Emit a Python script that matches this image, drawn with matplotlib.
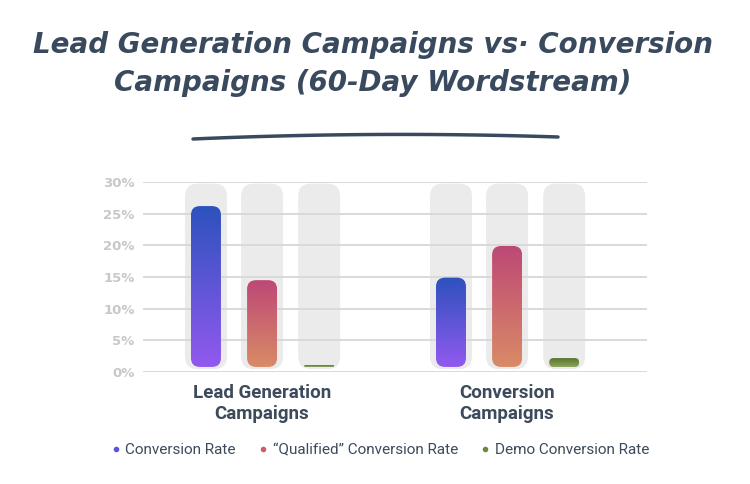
import numpy as np
import matplotlib
matplotlib.use("Agg")
import matplotlib.pyplot as plt
from matplotlib.patches import FancyBboxPatch
from matplotlib.lines import Line2D
from matplotlib.colors import LinearSegmentedColormap

# ---- data ----
categories = ["Lead Generation\nCampaigns", "Conversion\nCampaigns"]
series_names = ["Conversion Rate", "\u201cQualified\u201d Conversion Rate", "Demo Conversion Rate"]
conversion_rate = [26.2, 14.9]
qualified_rate = [14.5, 19.9]
demo_rate = [1.1, 2.2]
yticks = [0, 5, 10, 15, 20, 25, 30]
ytick_labels = ["0%", "5%", "10%", "15%", "20%", "25%", "30%"]

series_values = [conversion_rate, qualified_rate, demo_rate]
grad_top = ["#2c52bd", "#bd4876", "#5a7430"]
grad_bot = ["#9259ef", "#d98b66", "#8aa45a"]
dot_colors = ["#5b55d9", "#d0596f", "#6a8b3b"]

W, H = 750, 484
fig = plt.figure(figsize=(7.5, 4.84), dpi=100)
ax_l, ax_r, ax_top, ax_bot = 143, 647, 182, 372
ax = fig.add_axes([ax_l / W, 1 - ax_bot / H, (ax_r - ax_l) / W, (ax_bot - ax_top) / H])

xmin, xmax = -0.486, 1.571
ymin, ymax = 0, 30
ax.set_xlim(xmin, xmax)
ax.set_ylim(ymin, ymax)

xu_per_px = (xmax - xmin) / (ax_r - ax_l)
yu_per_px = (ymax - ymin) / (ax_bot - ax_top)
m_aspect = yu_per_px / xu_per_px

offsets = [-0.229, 0.0, 0.233]
bg_w = 42 * xu_per_px
bar_w = 30 * xu_per_px
bg_r = 13 * xu_per_px
bar_r = 9 * xu_per_px
base = 0.8

# gridlines (drawn over the grey tracks, under the coloured bars)
for t in yticks:
    ax.axhline(t, color="#d9d9d9", lw=1.4, zorder=1.5)

def rounded(x0, y0, w, h, r, **kw):
    hs = h / m_aspect
    r = min(r, w / 2, hs / 2)
    p = FancyBboxPatch((x0, y0), w, h,
                       boxstyle=f"round,pad=0,rounding_size={r}",
                       mutation_aspect=m_aspect, **kw)
    ax.add_patch(p)
    return p

grad = np.linspace(1, 0, 256).reshape(-1, 1)
for ci in range(len(categories)):
    for si in range(3):
        xc = ci + offsets[si]
        rounded(xc - bg_w / 2, 0.45, bg_w, 29.3, bg_r, fc="#ebebeb", ec="none", zorder=1)
        v = series_values[si][ci]
        p = rounded(xc - bar_w / 2, base, bar_w, v - base, bar_r, fc="none", ec="none", zorder=2)
        cmap = LinearSegmentedColormap.from_list("g", [grad_bot[si], grad_top[si]])
        im = ax.imshow(grad, cmap=cmap, extent=[xc - bar_w / 2, xc + bar_w / 2, base, v],
                       aspect="auto", zorder=3, interpolation="bilinear", vmin=0, vmax=1)
        im.set_clip_path(p)

ax.set_xlim(xmin, xmax)
ax.set_ylim(ymin, ymax)
for s in ax.spines.values():
    s.set_visible(False)
ax.set_yticks(yticks)
ax.set_yticklabels(ytick_labels, fontsize=9.5, fontweight="bold", color="#c8c8c8", family="DejaVu Sans")
ax.tick_params(axis="y", length=0, pad=6)
ax.set_xticks([0, 1])
ax.set_xticklabels(categories, fontsize=13.5, fontweight="bold", color="#3c4a5c",
                   family="Roboto", linespacing=1.2)
ax.tick_params(axis="x", length=0, pad=9)

# title
fig.text(0.497, 1 - 64 / H, "Lead Generation Campaigns vs\u00b7 Conversion\nCampaigns (60-Day Wordstream)",
         ha="center", va="center", fontsize=20, color="#3a4a5e", style="italic", fontweight="bold",
         family="DejaVu Sans", linespacing=1.45)

# decorative underline
t = np.linspace(0, 1, 100)
xs = 193 + (558 - 193) * t
ys = 139 - 2 * t - 14 * t * (1 - t)
fig.add_artist(Line2D(xs / W, 1 - ys / H, color="#3a4a5e", lw=2.5, solid_capstyle="round"))

# legend
handles = [Line2D([], [], marker="o", ls="none", color=c, markersize=3) for c in dot_colors]
fig.legend(handles, series_names, loc="center", bbox_to_anchor=(0.505, 1 - 450 / H), ncol=3,
           frameon=False, handletextpad=0.1, columnspacing=1.3, handlelength=1.0,
           prop={"family": "Roboto", "size": 11}, labelcolor="#3c4a5c")

fig.savefig("out.png", dpi=100)
